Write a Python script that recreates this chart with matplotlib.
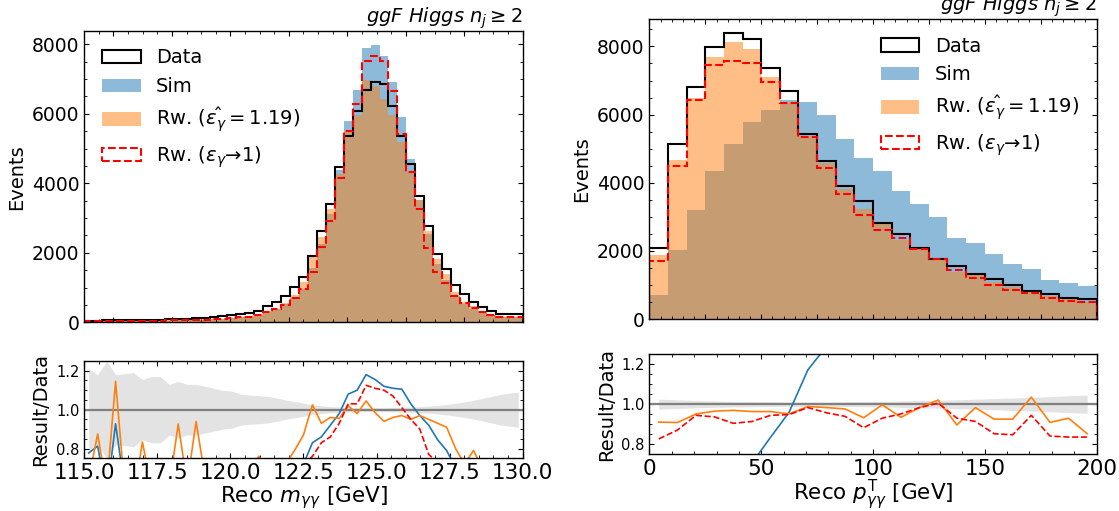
import numpy as np
import matplotlib
matplotlib.use("Agg")
import matplotlib.pyplot as plt
from matplotlib.ticker import MultipleLocator

# Reco m_yy: 49 bins between 115 and 130 GeV
mass_edges = np.linspace(115, 130, 50)
mass_data = [45, 48, 52, 55, 58, 62, 66, 70, 78, 88, 95, 105, 115, 130, 155, 175,
             205, 235, 255, 330, 460, 590, 760, 1010, 1317, 1894, 2625, 3394, 4471,
             5356, 6090, 6683, 6913, 6846, 6221, 5356, 4567, 3625, 2760, 1971, 1529,
             1077, 808, 596, 452, 327, 250, 240, 235]
mass_sim = [35, 39, 29, 51, 35, 34, 40, 39, 47, 51, 57, 58, 69, 78, 90, 105,
            127, 141, 166, 205, 294, 389, 517, 707, 948, 1572, 2258, 3122, 4382,
            5784, 6699, 7886, 7985, 7668, 6905, 5918, 4704, 3516, 2539, 1665, 1208,
            754, 533, 381, 280, 203, 150, 144, 141]
mass_rw = [29, 42, 31, 63, 35, 34, 55, 42, 43, 53, 88, 65, 108, 85, 96, 105,
           133, 141, 173, 251, 313, 389, 547, 798, 1146, 1941, 2441, 3258, 4270,
           5463, 5968, 6984, 6809, 6435, 5972, 5195, 4339, 3516, 2622, 1833, 1391,
           862, 582, 471, 316, 222, 165, 156, 146]
mass_rw1 = [27, 30, 30, 36, 35, 36, 40, 42, 47, 55, 59, 63, 71, 78, 96, 105,
            127, 141, 158, 211, 294, 389, 502, 687, 948, 1439, 2179, 2919, 4158,
            5517, 6273, 7518, 7673, 7531, 6656, 5410, 4339, 3263, 2125, 1433, 1125,
            754, 549, 405, 298, 213, 160, 154, 146]
mass_err = [0.21, 0.18, 0.25, 0.18, 0.185, 0.19, 0.155, 0.17, 0.17, 0.13, 0.145,
            0.13, 0.13, 0.12, 0.11, 0.10, 0.095, 0.08, 0.075, 0.072, 0.068, 0.06,
            0.05, 0.042, 0.034, 0.025, 0.02, 0.016, 0.014, 0.012, 0.011, 0.01, 0.01,
            0.01, 0.011, 0.012, 0.014, 0.016, 0.018, 0.022, 0.027, 0.033, 0.04,
            0.048, 0.058, 0.068, 0.078, 0.085, 0.09]

# Reco pT_yy: 24 bins between 0 and 200 GeV
pt_edges = np.linspace(0, 200, 25)
pt_data = [2079, 5149, 6812, 7970, 8386, 8218, 7376, 6683, 5426, 4644, 3901, 3455,
           2812, 2495, 2099, 1762, 1545, 1327, 1188, 1010, 822, 733, 624, 594]
pt_sim = [713, 2020, 3208, 4337, 5139, 5792, 6149, 6416, 6356, 5990, 5287, 4723,
          4337, 3772, 3386, 3000, 2376, 2228, 1901, 1604, 1455, 1158, 1069, 980]
pt_rw = [1892, 4675, 6478, 7691, 8126, 7914, 7103, 6356, 5361, 4565, 3807, 3220,
         2804, 2330, 2063, 1799, 1384, 1304, 1099, 934, 851, 666, 580, 506]
pt_rw1 = [1717, 4480, 6431, 7460, 7581, 7503, 6963, 6335, 5334, 4444, 3663, 3047,
          2615, 2373, 2063, 1771, 1437, 1212, 1012, 855, 776, 616, 521, 496]
pt_err = [0.025, 0.022, 0.018, 0.016, 0.014, 0.013, 0.012, 0.011, 0.011, 0.011,
          0.012, 0.013, 0.014, 0.016, 0.018, 0.02, 0.022, 0.025, 0.028, 0.031,
          0.034, 0.038, 0.042, 0.046]

title = r"ggF Higgs $n_j \geq 2$"
labels = ["Data", "Sim", r"Rw. ($\hat{\varepsilon_\gamma} = 1.19$)",
          r"Rw. ($\varepsilon_\gamma$→1)"]


def style(ax):
    ax.tick_params(which="both", direction="in", top=True, right=True)
    for sp in ax.spines.values():
        sp.set_linewidth(1.0)


def draw_main(ax, edges, data, sim, rw, rw1, loc):
    centers = 0.5 * (edges[1:] + edges[:-1])
    _, _, p_sim = ax.hist(centers, bins=edges, weights=sim, color="tab:blue", alpha=0.5)
    _, _, p_rw = ax.hist(centers, bins=edges, weights=rw, color="tab:orange", alpha=0.5)
    _, _, p_data = ax.hist(centers, bins=edges, weights=data, histtype="step",
                           color="black", lw=1.5)
    _, _, p_rw1 = ax.hist(centers, bins=edges, weights=rw1, histtype="step",
                          color="red", ls="--", lw=1.5)
    ax.legend([p_data[0], p_sim, p_rw, p_rw1[0]], labels, loc=loc,
              frameon=False, fontsize=14)
    ax.set_ylabel("Events", fontsize=14)
    ax.set_title(title, loc="right", style="italic", fontsize=14)
    ax.yaxis.set_major_locator(MultipleLocator(2000))
    ax.yaxis.set_minor_locator(MultipleLocator(500))
    ax.tick_params(axis="y", labelsize=13.5)
    ax.tick_params(axis="x", labelbottom=False)
    style(ax)


def draw_ratio(ax, edges, data, sim, rw, rw1, err):
    centers = 0.5 * (edges[1:] + edges[:-1])
    d = np.asarray(data, float)
    e = np.asarray(err)
    ax.fill_between(centers, 1 - e, 1 + e, color="#e3e3e3", lw=0)
    ax.axhline(1.0, color="grey", lw=1.6)
    ax.plot(centers, np.asarray(sim) / d, color="tab:blue", lw=1.2)
    ax.plot(centers, np.asarray(rw) / d, color="tab:orange", lw=1.2)
    ax.plot(centers, np.asarray(rw1) / d, color="red", ls="--", lw=1.2)
    ax.set_ylim(0.75, 1.25)
    ax.set_xlim(edges[0], edges[-1])
    ax.set_ylabel("Result/Data", fontsize=14)
    ax.yaxis.set_major_locator(MultipleLocator(0.2))
    ax.yaxis.set_minor_locator(MultipleLocator(0.05))
    ax.tick_params(axis="y", labelsize=10.5)
    ax.tick_params(axis="x", labelsize=15.5)
    style(ax)


fig = plt.figure(figsize=(11.19, 5.11), dpi=100)

ax1 = fig.add_axes([0.0753, 0.3693, 0.3918, 0.5701])
draw_main(ax1, mass_edges, mass_data, mass_sim, mass_rw, mass_rw1, "upper left")
ax1.set_xlim(115, 130)
ax1.xaxis.set_major_locator(MultipleLocator(2))
ax1.xaxis.set_minor_locator(MultipleLocator(0.5))

ax2 = fig.add_axes([0.0753, 0.1031, 0.3918, 0.1904])
draw_ratio(ax2, mass_edges, mass_data, mass_sim, mass_rw, mass_rw1, mass_err)
ax2.xaxis.set_major_locator(MultipleLocator(2.5))
ax2.xaxis.set_minor_locator(MultipleLocator(0.5))
ax2.xaxis.set_major_formatter(lambda v, p: f"{v:.1f}")
ax2.set_xlabel(r"Reco $m_{\gamma\gamma}$ [GeV]", fontsize=15.5, labelpad=0.5)

ax3 = fig.add_axes([0.5804, 0.3757, 0.3995, 0.5871])
draw_main(ax3, pt_edges, pt_data, pt_sim, pt_rw, pt_rw1, "upper right")
ax3.set_xlim(0, 200)
ax3.xaxis.set_major_locator(MultipleLocator(25))
ax3.xaxis.set_minor_locator(MultipleLocator(5))

ax4 = fig.add_axes([0.5804, 0.1115, 0.3995, 0.1951])
draw_ratio(ax4, pt_edges, pt_data, pt_sim, pt_rw, pt_rw1, pt_err)
ax4.xaxis.set_major_locator(MultipleLocator(50))
ax4.xaxis.set_minor_locator(MultipleLocator(10))
ax4.set_xlabel(r"Reco $p_{\gamma\gamma}^{\mathrm{T}}$ [GeV]", fontsize=15.5, labelpad=-1)

fig.savefig("out.png", dpi=100)
